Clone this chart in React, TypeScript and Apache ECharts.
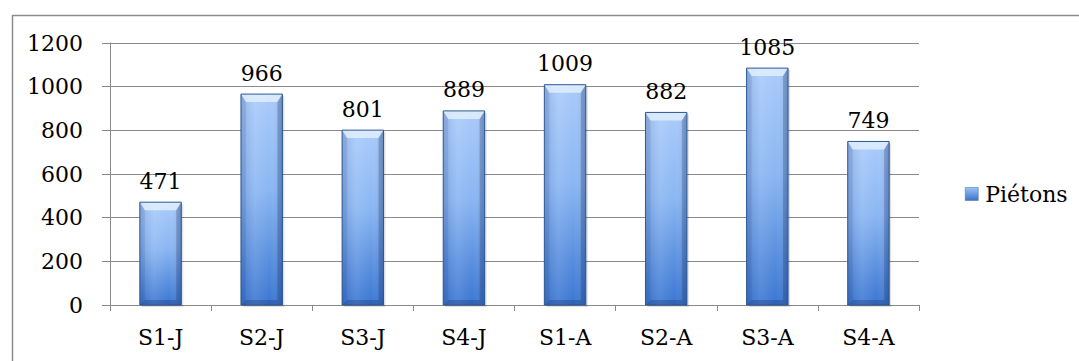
import React, { useEffect, useRef } from "react";
import * as echarts from "echarts";

const categories = ["S1-J", "S2-J", "S3-J", "S4-J", "S1-A", "S2-A", "S3-A", "S4-A"];
const pietons = [471, 966, 801, 889, 1009, 882, 1085, 749];
const seriesName = "Piétons";

const FONT = "'DejaVu Serif', serif";
const FONT_SIZE = 22;
const GRID_COLOR = "#8a8a8a";

const barFill = new echarts.graphic.LinearGradient(0, 0, 0, 1, [
  { offset: 0, color: "#aacbfa" },
  { offset: 0.45, color: "#8ab6f2" },
  { offset: 1, color: "#3a76d2" },
]);

const legendFill = new echarts.graphic.LinearGradient(0, 0, 0, 1, [
  { offset: 0, color: "#9cc2f6" },
  { offset: 1, color: "#3b74c8" },
]);

function renderBar(params: any, api: any) {
  const idx = api.value(0);
  const val = api.value(1);
  const top = api.coord([idx, val]);
  const base = api.coord([idx, 0]);
  const w = api.size([1, 0])[0] * 0.41;
  const x0 = top[0] - w / 2;
  const x1 = top[0] + w / 2;
  const y0 = top[1];
  const y1 = base[1];
  const b = 8;
  const s = 5;
  return {
    type: "group",
    children: [
      {
        type: "rect",
        shape: { x: x0 + 2, y: y0 + 2, width: w, height: y1 - y0 },
        style: { fill: "rgba(0,0,0,0.12)" },
      },
      {
        type: "rect",
        shape: { x: x0, y: y0, width: w, height: y1 - y0 },
        style: { fill: barFill },
      },
      {
        type: "rect",
        shape: { x: x0, y: y0, width: w, height: y1 - y0 },
        style: {
          fill: new echarts.graphic.LinearGradient(0, 0, 1, 0, [
            { offset: 0, color: "rgba(20,50,110,0.15)" },
            { offset: 0.35, color: "rgba(255,255,255,0.10)" },
            { offset: 0.7, color: "rgba(255,255,255,0)" },
            { offset: 1, color: "rgba(20,50,110,0.2)" },
          ]),
        },
      },
      {
        type: "polygon",
        shape: { points: [[x0, y0], [x1, y0], [x1 - s, y0 + b], [x0 + s, y0 + b]] },
        style: { fill: "rgba(225,238,255,0.85)" },
      },
      {
        type: "polygon",
        shape: { points: [[x0, y0], [x0 + s, y0 + b], [x0 + s, y1 - s], [x0, y1]] },
        style: { fill: "rgba(30,60,120,0.12)" },
      },
      {
        type: "polygon",
        shape: { points: [[x1, y0], [x1 - s, y0 + b], [x1 - s, y1 - s], [x1, y1]] },
        style: { fill: "rgba(20,45,100,0.25)" },
      },
      {
        type: "polygon",
        shape: { points: [[x0, y1], [x0 + s, y1 - s], [x1 - s, y1 - s], [x1, y1]] },
        style: { fill: "rgba(20,50,110,0.3)" },
      },
      {
        type: "rect",
        shape: { x: x0, y: y0, width: w, height: y1 - y0 },
        style: { fill: "none", stroke: "#2d5894", lineWidth: 1 },
      },
      {
        type: "text",
        x: top[0],
        y: y0 - 10,
        style: {
          text: String(val),
          fill: "#000",
          font: `${FONT_SIZE}px ${FONT}`,
          align: "center",
          verticalAlign: "bottom",
        },
      },
    ],
  };
}

export default function App() {
  const ref = useRef<HTMLDivElement>(null);

  useEffect(() => {
    document.body.style.margin = "0";
    const chart = echarts.init(ref.current!, null, { renderer: "svg" });
    chart.setOption({
      animation: false,
      backgroundColor: "#ffffff",
      textStyle: { fontFamily: FONT },
      graphic: [
        {
          type: "rect",
          left: 10,
          top: 13,
          shape: { x: 0, y: 0, width: 1200, height: 500 },
          style: { fill: "none", stroke: "#8c8c8c", lineWidth: 1.5 },
          silent: true,
          z: -1,
        },
      ],
      grid: { left: 110, right: 160, top: 43, bottom: 56, containLabel: false },
      legend: {
        left: 960,
        top: 178,
        data: [seriesName],
        icon: "rect",
        itemWidth: 13,
        itemHeight: 13,
        itemGap: 6,
        itemStyle: { color: legendFill, borderColor: "#3a6aad", borderWidth: 0.5 },
        textStyle: { fontFamily: FONT, fontSize: FONT_SIZE, color: "#000", padding: [0, 0, 0, 2] },
      },
      xAxis: {
        type: "category",
        data: categories,
        boundaryGap: true,
        axisLine: { show: true, lineStyle: { color: GRID_COLOR, width: 1 } },
        axisTick: { show: true, interval: 0, length: 6, lineStyle: { color: GRID_COLOR } },
        axisLabel: { fontFamily: FONT, fontSize: FONT_SIZE, color: "#000", margin: 21, interval: 0 },
        splitLine: { show: false },
      },
      yAxis: {
        type: "value",
        min: 0,
        max: 1200,
        interval: 200,
        axisLine: { show: true, lineStyle: { color: GRID_COLOR, width: 1 } },
        axisTick: { show: true, length: 8, lineStyle: { color: GRID_COLOR } },
        axisLabel: {
          fontFamily: FONT,
          fontSize: FONT_SIZE,
          color: "#000",
          margin: 27,
          formatter: (v: number) => String(v),
        },
        splitLine: { show: true, lineStyle: { color: GRID_COLOR, width: 1 } },
      },
      series: [
        {
          name: seriesName,
          type: "custom",
          renderItem: renderBar,
          itemStyle: { color: legendFill },
          encode: { x: 0, y: 1 },
          data: pietons.map((v, i) => [i, v]),
          z: 3,
        },
      ],
    });
    return () => chart.dispose();
  }, []);

  return <div ref={ref} style={{ width: 1079, height: 361 }} />;
}
